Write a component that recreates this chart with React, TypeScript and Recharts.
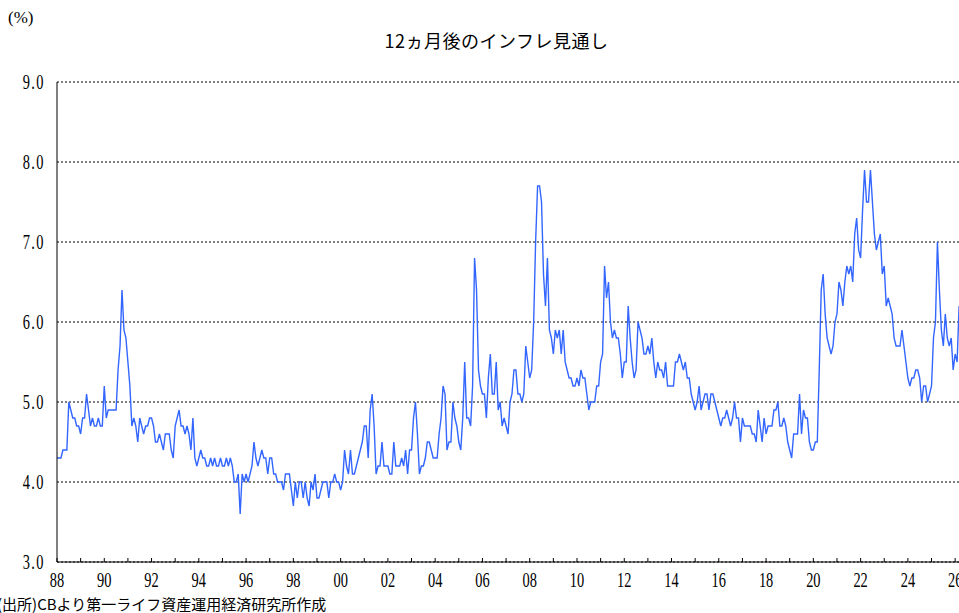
import { LineChart, Line, XAxis, YAxis, CartesianGrid } from 'recharts';

// 12ヵ月後のインフレ見通し (%), monthly, starting Jan 1988
const values1980s = [
  4.3, 4.3, 4.3, 4.4, 4.4, 4.4, 5.0, 4.9, 4.8, 4.8, 4.7, 4.7, // 1988
  4.6, 4.8, 4.8, 5.1, 4.9, 4.7, 4.8, 4.7, 4.7, 4.8, 4.7, 4.7, // 1989
];

const values1990s = [
  5.2, 4.8, 4.9, 4.9, 4.9, 4.9, 4.9, 5.4, 5.7, 6.4, 5.9, 5.8, // 1990
  5.5, 5.2, 4.7, 4.8, 4.7, 4.5, 4.8, 4.7, 4.6, 4.7, 4.7, 4.8, // 1991
  4.8, 4.7, 4.5, 4.5, 4.6, 4.5, 4.4, 4.6, 4.6, 4.6, 4.4, 4.3, // 1992
  4.7, 4.8, 4.9, 4.7, 4.7, 4.6, 4.7, 4.6, 4.4, 4.8, 4.3, 4.2, // 1993
  4.3, 4.4, 4.3, 4.3, 4.2, 4.2, 4.3, 4.2, 4.3, 4.2, 4.2, 4.3, // 1994
  4.2, 4.2, 4.3, 4.2, 4.3, 4.2, 4.0, 4.0, 4.1, 3.6, 4.1, 4.0, // 1995
  4.1, 4.0, 4.1, 4.2, 4.5, 4.3, 4.2, 4.3, 4.4, 4.3, 4.3, 4.1, // 1996
  4.3, 4.3, 4.1, 4.1, 4.0, 4.0, 4.0, 3.9, 4.1, 4.1, 4.1, 3.9, // 1997
  3.7, 4.0, 3.8, 4.0, 4.0, 3.8, 4.0, 3.8, 3.7, 4.0, 3.9, 4.1, // 1998
  3.8, 3.8, 3.9, 4.0, 4.0, 4.0, 3.8, 4.0, 4.0, 4.1, 4.0, 4.0, // 1999
];

const values2000s = [
  3.9, 4.0, 4.4, 4.2, 4.1, 4.4, 4.1, 4.1, 4.2, 4.3, 4.4, 4.5, // 2000
  4.7, 4.7, 4.3, 4.9, 5.1, 4.7, 4.1, 4.2, 4.2, 4.5, 4.2, 4.2, // 2001
  4.2, 4.1, 4.1, 4.5, 4.2, 4.2, 4.2, 4.3, 4.2, 4.4, 4.1, 4.4, // 2002
  4.4, 4.8, 5.0, 4.6, 4.1, 4.2, 4.2, 4.3, 4.5, 4.5, 4.4, 4.3, // 2003
  4.3, 4.3, 4.6, 4.8, 5.2, 5.1, 4.4, 4.5, 4.5, 5.0, 4.8, 4.7, // 2004
  4.5, 4.4, 4.8, 5.5, 4.8, 4.8, 4.7, 5.2, 6.8, 6.4, 5.4, 5.2, // 2005
  5.1, 5.1, 4.8, 5.3, 5.6, 5.1, 5.1, 5.5, 4.9, 5.0, 4.7, 4.8, // 2006
  4.7, 4.6, 5.0, 5.1, 5.4, 5.4, 5.1, 5.1, 5.0, 5.1, 5.7, 5.5, // 2007
  5.3, 5.4, 6.0, 7.0, 7.7, 7.7, 7.5, 6.6, 6.2, 6.8, 5.9, 5.8, // 2008
  5.6, 5.9, 5.8, 5.9, 5.6, 5.9, 5.5, 5.4, 5.3, 5.3, 5.2, 5.2, // 2009
];

const values2010s = [
  5.3, 5.2, 5.4, 5.3, 5.3, 5.1, 4.9, 5.0, 5.0, 5.0, 5.2, 5.2, // 2010
  5.5, 5.6, 6.7, 6.3, 6.5, 6.0, 5.8, 5.9, 5.8, 5.8, 5.6, 5.3, // 2011
  5.5, 5.5, 6.2, 5.8, 5.5, 5.3, 5.4, 6.0, 5.9, 5.8, 5.6, 5.6, // 2012
  5.7, 5.6, 5.8, 5.5, 5.3, 5.5, 5.4, 5.4, 5.3, 5.5, 5.2, 5.2, // 2013
  5.2, 5.2, 5.5, 5.5, 5.6, 5.5, 5.4, 5.5, 5.3, 5.3, 5.1, 5.0, // 2014
  4.9, 5.0, 5.2, 4.9, 5.0, 5.1, 5.1, 4.9, 5.1, 5.1, 5.0, 4.9, // 2015
  4.8, 4.7, 4.8, 4.8, 4.9, 4.8, 4.7, 4.8, 5.0, 4.8, 4.8, 4.5, // 2016
  4.8, 4.7, 4.7, 4.7, 4.7, 4.6, 4.6, 4.5, 4.9, 4.7, 4.5, 4.8, // 2017
  4.6, 4.7, 4.7, 4.7, 4.9, 4.9, 5.0, 4.7, 4.7, 4.8, 4.7, 4.5, // 2018
  4.4, 4.3, 4.6, 4.6, 4.6, 5.1, 4.6, 4.9, 4.8, 4.8, 4.5, 4.4, // 2019
];

const values2020s = [
  4.4, 4.5, 4.5, 5.4, 6.4, 6.6, 6.1, 5.8, 5.7, 5.6, 5.7, 6.0, // 2020
  6.1, 6.5, 6.4, 6.2, 6.5, 6.7, 6.6, 6.7, 6.5, 7.1, 7.3, 6.9, // 2021
  6.8, 7.4, 7.9, 7.5, 7.5, 7.9, 7.5, 7.1, 6.9, 7.0, 7.1, 6.6, // 2022
  6.7, 6.2, 6.3, 6.2, 6.1, 5.8, 5.7, 5.7, 5.7, 5.9, 5.7, 5.5, // 2023
  5.3, 5.2, 5.3, 5.3, 5.4, 5.4, 5.3, 5.0, 5.2, 5.2, 5.0, 5.1, // 2024
  5.2, 5.8, 6.0, 7.0, 6.4, 5.9, 5.7, 6.1, 5.8, 5.7, 5.8, 5.4, // 2025
  5.6, 5.5, 6.2, // 2026
];

const yTicks = [3, 4, 5, 6, 7, 8, 9];
const yearLabels = ['88', '90', '92', '94', '96', '98', '00', '02', '04', '06', '08', '10', '12', '14', '16', '18', '20', '22', '24', '26'];

const series = [...values1980s, ...values1990s, ...values2000s, ...values2010s, ...values2020s];
const chartData = series.map((value, idx) => ({ idx, value }));

// a tick every January, labels every other year
const yearTicks = Array.from({ length: 39 }, (_, i) => i * 12);

const numFont = '"Liberation Serif", "Times New Roman", serif';
const jpFont = '"Noto Sans CJK JP", "Noto Sans CJK SC", sans-serif';

// narrow, tall digits like the original Mincho labels
const NARROW = 0.72;

const XTick = ({ x, y, payload }: any) => {
  const yearIdx = payload.value / 12;
  const label = yearIdx % 2 === 0 ? yearLabels[yearIdx / 2] : null;
  return (
    <g>
      <line x1={x} x2={x} y1={y} y2={y - 4} stroke="#000" strokeWidth={1} />
      {label && (
        <text
          transform={`translate(${x},${y + 25}) scale(${NARROW},1)`}
          textAnchor="middle"
          fontSize={20}
          fontFamily={numFont}
          fill="#000"
        >
          {label}
        </text>
      )}
    </g>
  );
};

const YTick = ({ x, y, payload }: any) => (
  <text
    transform={`translate(${x - 12},${y + 7}) scale(${NARROW},1)`}
    textAnchor="end"
    fontSize={20}
    letterSpacing={2}
    fontFamily={numFont}
    fill="#000"
  >
    {Number(payload.value).toFixed(1)}
  </text>
);

export default function App() {
  return (
    <div style={{ position: 'absolute', left: 0, top: 0, width: 959, height: 613, overflow: 'hidden', background: '#fff' }}>
      <div style={{ position: 'absolute', left: 8, top: 7, fontFamily: numFont, fontSize: 17, lineHeight: '22px' }}>(%)</div>
      <div
        style={{
          position: 'absolute',
          left: 0,
          top: 28,
          width: 993,
          textAlign: 'center',
          fontFamily: jpFont,
          fontSize: 18,
          lineHeight: '24px',
          letterSpacing: 0.5,
        }}
      >
        12ヵ月後のインフレ見通し
      </div>
      <div style={{ position: 'absolute', left: -3, top: 594, fontFamily: jpFont, fontSize: 15, lineHeight: '20px', whiteSpace: 'nowrap' }}>
        (出所)CBより第一ライフ資産運用経済研究所作成
      </div>
      <div style={{ position: 'absolute', left: 0, top: 0 }}>
        <LineChart width={975} height={613} data={chartData} margin={{ top: 82, right: 10, bottom: 0, left: 0 }}>
          <CartesianGrid vertical={false} stroke="#000" strokeDasharray="2 2" strokeWidth={1} />
          <XAxis
            dataKey="idx"
            type="number"
            domain={[0, 461]}
            ticks={yearTicks}
            interval={0}
            tickSize={0}
            tickMargin={0}
            tick={<XTick />}
            height={51}
            axisLine={{ stroke: '#000', strokeWidth: 1 }}
            tickLine={false}
            allowDataOverflow
          />
          <YAxis
            type="number"
            domain={[3, 9]}
            ticks={yTicks}
            interval={0}
            width={57}
            tickSize={0}
            tickMargin={0}
            tick={<YTick />}
            axisLine={{ stroke: '#000', strokeWidth: 1 }}
            tickLine={false}
          />
          <Line
            type="linear"
            dataKey="value"
            stroke="#3366ff"
            strokeWidth={1.4}
            dot={false}
            isAnimationActive={false}
          />
        </LineChart>
      </div>
    </div>
  );
}
